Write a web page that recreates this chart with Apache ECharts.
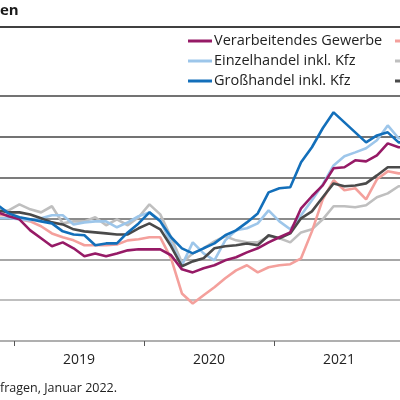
<!DOCTYPE html>
<html>
<head>
<meta charset="utf-8">
<script src="https://cdn.jsdelivr.net/npm/echarts@6/dist/echarts.min.js"></script>
<style>
  html, body { margin: 0; padding: 0; background: #fff; }
  #grafico { width: 400px; height: 400px; }
</style>
</head>
<body>
<div id="grafico"></div>
<script>
// Datos: Monatsindex, 0 = Januar 2019 (-2 = Nov 2018 ... 36 = Jan 2022)
const monate = [-2, -1, 0, 1, 2, 3, 4, 5, 6, 7, 8, 9, 10, 11, 12, 13, 14, 15, 16, 17, 18,
  19, 20, 21, 22, 23, 24, 25, 26, 27, 28, 29, 30, 31, 32, 33, 34, 35, 36];

const jahre = ['2019', '2020', '2021'];

const verarbeitendesGewerbe = [23.0, 21.1, 19.6, 14.2, 10.3, 6.4, 8.3, 5.4, 1.5, 2.9, 1.5, 2.9, 4.4, 4.9,
  4.9, 4.9, 2.0, -4.9, -6.4, -4.4, -2.9, -0.5, 1.0, 3.4, 5.4, 8.3,
  10.8, 13.2, 25.0, 30.9, 36.2, 44.6, 45.1, 48.5, 48.0, 50.9, 56.8, 54.9, 54.9];

const bauhauptgewerbe = [21.6, 21.6, 19.6, 18.6, 16.2, 12.7, 10.8, 9.3, 6.9, 6.9, 6.9, 7.3, 9.3, 9.8,
  10.8, 10.8, 0.5, -16.7, -21.6, -17.6, -13.7, -9.3, -5.4, -2.9, -6.4, -3.9,
  -2.9, -2.4, 0.5, 13.7, 29.4, 38.7, 33.8, 34.8, 29.4, 39.2, 43.1, 42.1, 42.1];

const einzelhandel = [20.1, 20.1, 19.6, 19.1, 20.1, 21.6, 21.6, 17.1, 18.1, 18.6, 18.6, 15.7, 18.1, 21.1,
  23.0, 19.1, 7.8, -2.9, 8.3, 2.9, -0.5, 9.3, 14.2, 15.2, 17.6, 24.0,
  18.6, 14.7, 21.6, 28.9, 36.7, 46.0, 50.5, 52.4, 54.4, 58.3, 65.6, 59.3, 59.3];

const dienstleister = [23.5, 24.0, 26.9, 24.5, 23.0, 26.0, 17.6, 18.6, 18.6, 20.6, 16.7, 19.6, 16.7, 20.6,
  26.9, 22.0, 10.8, -1.5, 2.9, 5.4, 8.8, 11.3, 9.3, 8.3, 8.3, 11.3,
  10.3, 8.3, 13.2, 14.7, 19.6, 26.0, 26.0, 25.5, 26.5, 30.4, 32.3, 35.8, 35.8];

const grosshandel = [26.5, 22.5, 20.6, 19.6, 18.6, 17.6, 13.7, 12.2, 11.8, 6.9, 7.8, 7.8, 13.2, 17.6,
  23.0, 18.6, 10.8, 5.4, 2.9, 5.4, 7.8, 11.8, 14.2, 18.1, 22.5, 32.8,
  34.8, 35.3, 47.5, 54.9, 64.2, 72.0, 67.1, 62.2, 57.3, 60.7, 62.2, 57.3, 57.3];

const gesamtwirtschaft = [24.0, 23.0, 23.0, 22.0, 20.1, 18.1, 17.1, 14.7, 13.7, 13.2, 12.7, 12.2, 12.2, 15.2,
  17.6, 14.7, 6.4, -3.4, -1.0, 0.5, 5.4, 6.4, 6.9, 7.8, 6.9, 11.8,
  10.3, 12.7, 20.1, 23.5, 30.4, 37.2, 35.8, 36.2, 37.2, 41.1, 45.1, 45.1, 45.1];

// Farben
const farben = {
    'Verarbeitendes Gewerbe': '#961a66',
    'Bauhauptgewerbe': '#f4a09c',
    'Einzelhandel inkl. Kfz': '#9dc6ea',
    'Dienstleister': '#bfbfbf',
    'Großhandel inkl. Kfz': '#136fba',
    'Gesamtwirtschaft': '#4a4a4a'
};

// PROCESAMIENTO
function paare(werte) {
    return monate.map((m, i) => [m, werte[i]]);
}

function linie(name, werte) {
    return {
        name: name,
        type: 'line',
        symbol: 'none',
        clip: true,
        lineStyle: { width: 2.6, color: farben[name] },
        itemStyle: { color: farben[name] },
        data: paare(werte)
    };
}

const schrift = 'Open Sans';

// zweite Legendenspalte: nur die Linienstücke liegen noch im Bild
const legende2 = ['Bauhauptgewerbe', 'Dienstleister', 'Gesamtwirtschaft'];

function crearGrafico() {
    const legendenStriche = legende2.map((name, k) => ({
        type: 'line',
        shape: { x1: 395, y1: 41 + k * 20, x2: 419, y2: 41 + k * 20 },
        style: { stroke: farben[name], lineWidth: 3 }
    }));

    return {
        animation: false,
        textStyle: { fontFamily: schrift },
        title: [
            {
                text: 'en',
                left: 0, top: 3, padding: 0,
                textStyle: { fontSize: 15, fontWeight: 'bold', color: '#1a1a1a', fontFamily: schrift }
            },
            {
                text: 'fragen, Januar 2022.',
                left: 0, top: 382, padding: 0,
                textStyle: { fontSize: 12.5, fontWeight: 'normal', color: '#222', fontFamily: schrift }
            }
        ],
        legend: {
            left: 188, top: 31,
            padding: 0,
            orient: 'vertical',
            itemGap: 0,
            itemWidth: 24, itemHeight: 3,
            icon: 'rect',
            textStyle: { fontSize: 14.5, color: '#222', lineHeight: 20, padding: [0, 0, 0, -3] },
            data: ['Verarbeitendes Gewerbe', 'Einzelhandel inkl. Kfz', 'Großhandel inkl. Kfz']
        },
        graphic: [
            {
                type: 'line',
                shape: { x1: 0, y1: 27, x2: 400, y2: 27 },
                style: { stroke: '#404040', lineWidth: 2 }
            }
        ].concat(legendenStriche),
        grid: { left: 0, right: 0, top: 96, bottom: 59 },
        xAxis: {
            type: 'value',
            min: -1.7923,
            max: 35.131,
            axisLine: { show: true, onZero: false, lineStyle: { color: '#aaaaaa', width: 1.5 } },
            axisTick: {
                show: true,
                length: 5,
                customValues: [-0.5, 11.5, 23.5, 35.5],
                lineStyle: { color: '#555', width: 1 }
            },
            axisLabel: {
                show: true,
                customValues: [5.5, 17.5, 29.5],
                margin: 12,
                fontSize: 14,
                color: '#222',
                formatter: v => jahre[Math.round((v - 5.5) / 12)]
            },
            splitLine: { show: false }
        },
        yAxis: {
            type: 'value',
            min: -40,
            max: 80,
            interval: 20,
            axisLine: { show: false },
            axisTick: { show: false },
            axisLabel: { show: false },
            splitLine: {
                show: true,
                lineStyle: {
                    width: 1.5,
                    color: ['#aaaaaa', '#aaaaaa', '#8a8a8a', '#666666', '#505050', '#444444', '#444444']
                }
            }
        },
        series: [
            linie('Dienstleister', dienstleister),
            linie('Bauhauptgewerbe', bauhauptgewerbe),
            linie('Einzelhandel inkl. Kfz', einzelhandel),
            linie('Gesamtwirtschaft', gesamtwirtschaft),
            linie('Verarbeitendes Gewerbe', verarbeitendesGewerbe),
            linie('Großhandel inkl. Kfz', grosshandel)
        ]
    };
}

function iniciar() {
    const chartDom = document.getElementById('grafico');
    const myChart = echarts.init(chartDom, null, { renderer: 'canvas' });
    myChart.setOption(crearGrafico());
}

iniciar();
</script>
</body>
</html>
